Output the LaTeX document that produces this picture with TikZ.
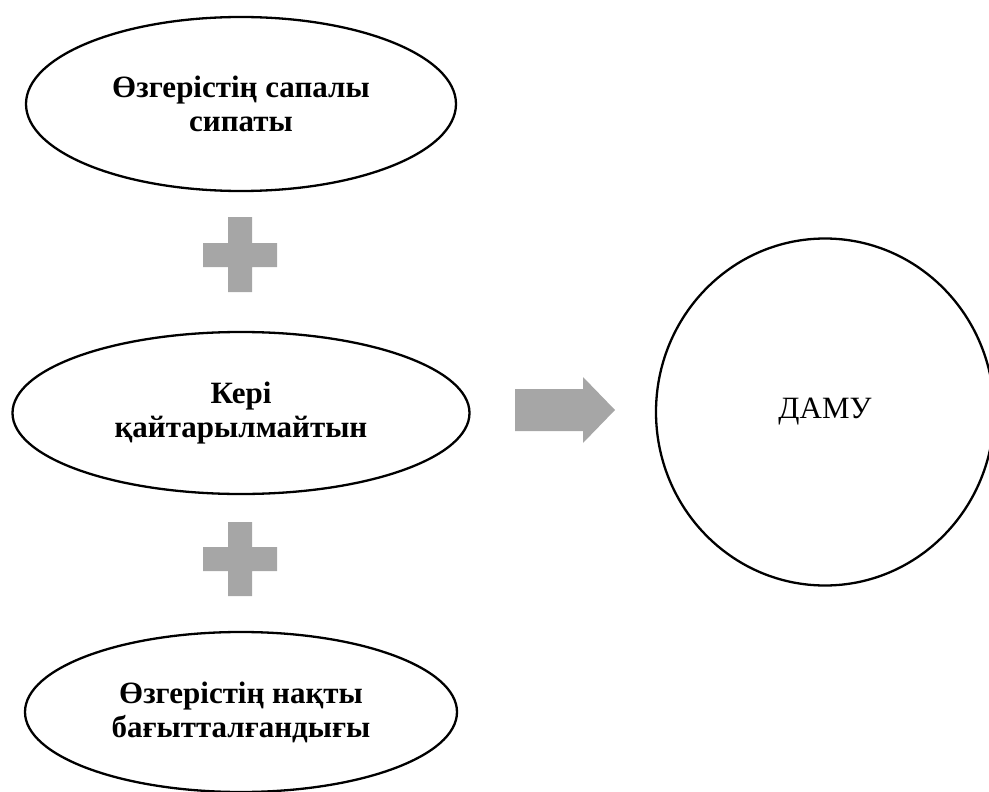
\documentclass[tikz,border=0pt]{standalone}
\usepackage{fontspec}
\setmainfont{Liberation Serif}
\usetikzlibrary{shapes.geometric}
\definecolor{plusgray}{HTML}{A6A6A6}
\tikzset{
  oval/.style={draw=black, line width=2.3pt, ellipse, inner sep=0pt, align=center,
    font=\fontsize{31}{34}\selectfont\bfseries},
  bigcircle/.style={draw=black, line width=2.3pt, ellipse, inner sep=0pt,
    font=\fontsize{31}{34}\selectfont},
  grayshape/.style={fill=plusgray, draw=none}
}
\begin{document}
\begin{tikzpicture}[x=1pt, y=-1pt]
\useasboundingbox (0,0) rectangle (989,792);
\node[oval, minimum width=430, minimum height=174] (top) at (241,104)
  {Өзгерістің сапалы\\сипаты};
\node[oval, minimum width=457, minimum height=162] (mid) at (241,413)
  {Кері\\қайтарылмайтын};
\node[oval, minimum width=432, minimum height=160] (bot) at (241,712)
  {Өзгерістің нақты\\бағытталғандығы};
\node[bigcircle, minimum width=338, minimum height=347] (damu) at (825,412) {ДАМУ};
% plus signs
\fill[grayshape] (228,217) -- (252,217) -- (252,243) -- (277,243) -- (277,267) -- (252,267)
  -- (252,292) -- (228,292) -- (228,267) -- (203,267) -- (203,243) -- (228,243) -- cycle;
\fill[grayshape] (228,522) -- (252,522) -- (252,547) -- (277,547) -- (277,571) -- (252,571)
  -- (252,596) -- (228,596) -- (228,571) -- (203,571) -- (203,547) -- (228,547) -- cycle;
% arrow
\fill[grayshape] (515,389) -- (583,389) -- (583,377) -- (615,410) -- (583,443) -- (583,431)
  -- (515,431) -- cycle;
\end{tikzpicture}
\end{document}
